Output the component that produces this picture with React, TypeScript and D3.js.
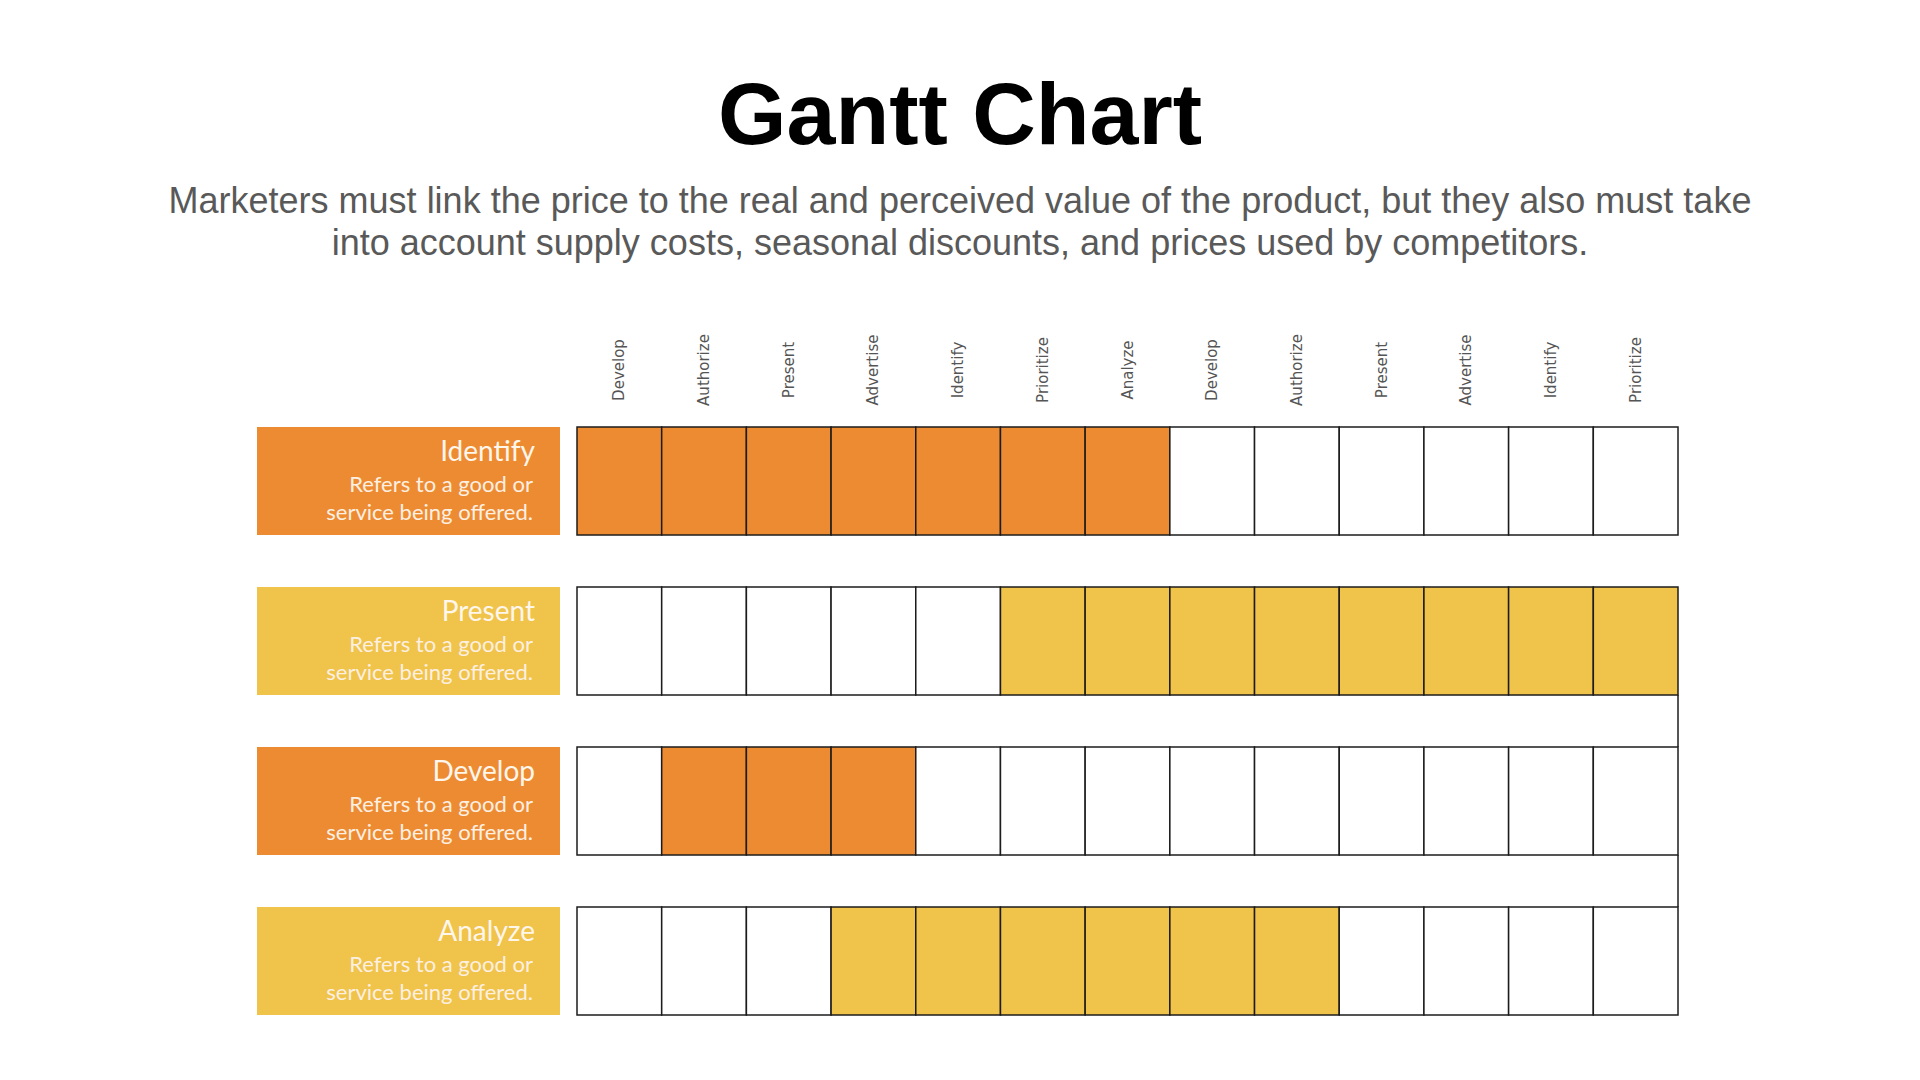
import React from "react";
import * as d3 from "d3";

const columns = ["Develop", "Authorize", "Present", "Advertise", "Identify", "Prioritize", "Analyze", "Develop", "Authorize", "Present", "Advertise", "Identify", "Prioritize"];
const tasks = ["Identify", "Present", "Develop", "Analyze"];
const taskStart = [0, 5, 1, 3];
const taskEnd = [6, 12, 3, 8];
const descLine1 = "Refers to a good or";
const descLine2 = "service being offered.";
const taskColors = ["#ED8B32", "#F0C34A", "#ED8B32", "#F0C34A"];
const rightConnectors = [[1, 2], [2, 3]];

const title = "Gantt Chart";
const subtitleLines = [
  "Marketers must link the price to the real and perceived value of the product, but they also must take",
  "into account supply costs, seasonal discounts, and prices used by competitors.",
];

export default function App() {
  const W = 1920, H = 1080;
  const x = d3.scaleBand<number>().domain(d3.range(columns.length)).range([577, 1678]).paddingInner(0).paddingOuter(0);
  const y = d3.scaleBand<string>().domain(tasks).range([427, 1015]).paddingInner(0.325).paddingOuter(0);
  const bw = x.bandwidth();
  const bh = y.bandwidth();
  const gridRight = x.range()[1];
  const labelX0 = 257, labelX1 = 560;
  const stroke = "#1c1c1c";

  return (
    <svg width={W} height={H} style={{ position: "absolute", left: 0, top: 0, background: "#ffffff" }}>
      <rect x={0} y={0} width={W} height={H} fill="#ffffff" />
      <text x={960} y={144} textAnchor="middle" fontFamily="'Liberation Sans', Arial, sans-serif" fontWeight="bold" fontSize={88} fill="#000">{title}</text>
      {subtitleLines.map((l, i) => (
        <text key={i} x={960} y={213 + i * 42} textAnchor="middle" fontFamily="'Liberation Sans', Arial, sans-serif" fontSize={36} fill="#595959">{l}</text>
      ))}
      {columns.map((c, i) => {
        const cx = (x(i) as number) + bw / 2;
        return (
          <text key={i} transform={`translate(${cx + 5},370) rotate(-90)`} textAnchor="middle" fontFamily="'DejaVu Sans', Verdana, sans-serif" fontSize={15} fill="#555555">{c}</text>
        );
      })}
      {rightConnectors.map(([a, b], i) => (
        <line key={i} x1={gridRight} x2={gridRight} y1={(y(tasks[a]) as number) + bh} y2={y(tasks[b]) as number} stroke={stroke} strokeWidth={1.5} />
      ))}
      {tasks.map((t, r) => {
        const ty = y(t) as number;
        return (
          <g key={t}>
            <rect x={labelX0} y={ty} width={labelX1 - labelX0} height={bh} fill={taskColors[r]} />
            <text x={535} y={ty + 34} textAnchor="end" fontFamily="Lato, 'Open Sans', sans-serif" fontSize={28} fill="#FFF6EC">{t}</text>
            <text x={533} y={ty + 65} textAnchor="end" fontFamily="Lato, 'Open Sans', sans-serif" fontSize={22} fill="#FDF0E2">{descLine1}</text>
            <text x={533} y={ty + 93} textAnchor="end" fontFamily="Lato, 'Open Sans', sans-serif" fontSize={22} fill="#FDF0E2">{descLine2}</text>
            {columns.map((_, c) => {
              const filled = c >= taskStart[r] && c <= taskEnd[r];
              return (
                <rect key={c} x={x(c) as number} y={ty} width={bw} height={bh} fill={filled ? taskColors[r] : "#ffffff"} stroke={stroke} strokeWidth={1.5} />
              );
            })}
          </g>
        );
      })}
    </svg>
  );
}
